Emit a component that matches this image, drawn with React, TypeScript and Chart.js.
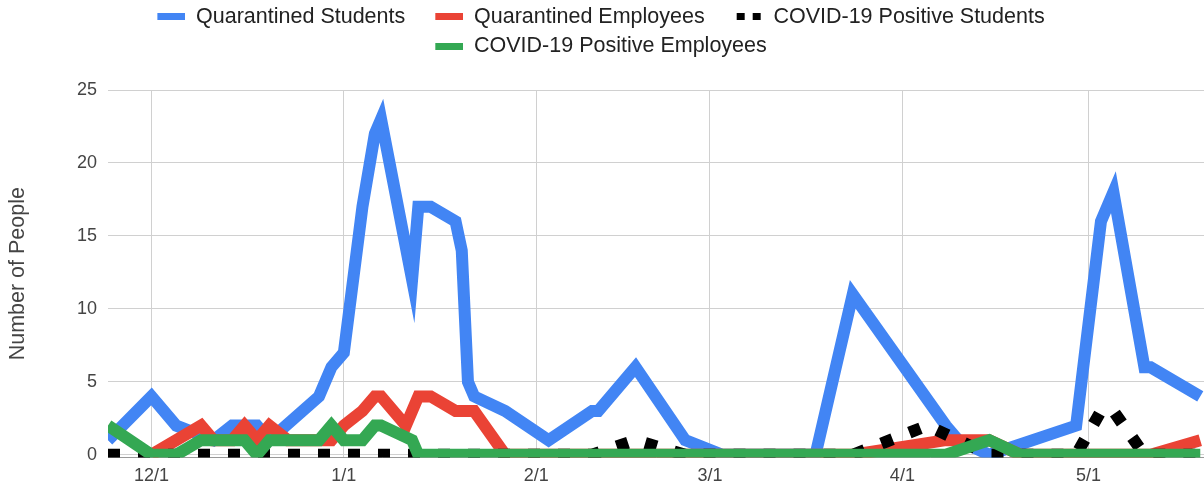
import React, { useEffect, useRef } from "react";
import { Chart, registerables } from "chart.js";

Chart.register(...registerables);

// ---- data ----
const dateLabels = [
  "11/24", "12/1", "12/5", "12/9", "12/11", "12/14", "12/16", "12/18", "12/20", "12/23",
  "12/28", "12/30", "1/1", "1/4", "1/6", "1/7", "1/11", "1/12", "1/13", "1/15",
  "1/19", "1/20", "1/21", "1/22", "1/27", "2/3", "2/10", "2/11", "2/17", "2/25",
  "3/3", "3/18", "3/24", "4/5", "4/8", "4/10", "4/15", "4/20", "4/29", "5/3",
  "5/5", "5/10", "5/11", "5/19",
];

const quarantinedStudents = [
  1, 4, 2, null, 1, 2, null, 2, 1, null,
  4, 6, 7, 17, 22, 23, null, 12, 17, 17,
  16, 14, 5, 4, 3, 1, 3, 3, 6, 1,
  0, 0, 11, null, 2, 1, 0, null, 2, 16,
  18, 6, 6, 4,
];

const quarantinedEmployees = [
  null, 0, null, 2, 1, 1, 2, 1, 2, 1,
  1, 1, 2, 3, 4, 4, 2, null, 4, 4,
  3, null, null, 3, 0, 0, null, null, null, null,
  0, null, 0, null, 1, null, 1, 0, null, null,
  null, null, 0, 1,
];

const positiveStudents = [
  0, 0, null, null, null, null, null, null, null, null,
  null, null, 0, null, null, null, null, null, null, null,
  null, null, null, null, null, 0, 0, null, 1, 0,
  null, null, 0, 2, null, null, 0, null, 0, 3,
  3, 0, null, 0,
];

const positiveEmployees = [
  2, 0, 0, 1, 1, 1, 1, 0, 1, 1,
  1, 2, 1, 1, 2, 2, null, 1, 0, null,
  null, null, null, null, null, 0, null, null, null, null,
  null, null, 0, null, 0, null, 1, 0, null, null,
  null, null, null, 0,
];

const seriesNames = [
  "Quarantined Students",
  "Quarantined Employees",
  "COVID-19 Positive Students",
  "COVID-19 Positive Employees",
];

const monthTickLabels = ["12/1", "1/1", "2/1", "3/1", "4/1", "5/1"];
const yTickValues = [0, 5, 10, 15, 20, 25];

// ---- helpers ----
function dayOffset(md: string): number {
  const [m, d] = md.split("/").map(Number);
  const year = m >= 8 ? 2020 : 2021;
  return (Date.UTC(year, m - 1, d) - Date.UTC(2020, 10, 24)) / 86400000;
}

function toPoints(values: (number | null)[]) {
  return dateLabels.map((d, i) => ({ x: dayOffset(d), y: values[i] }));
}

const FONT = "'Liberation Sans', Arial, sans-serif";
const COLORS = ["#4285F4", "#EA4335", "#000000", "#34A853"];

function makeSwatch(color: string, dotted: boolean): HTMLCanvasElement {
  const c = document.createElement("canvas");
  c.width = 50;
  c.height = 7;
  const g = c.getContext("2d")!;
  g.fillStyle = color;
  if (dotted) {
    g.fillRect(24, 0, 8, 7);
    g.fillRect(40, 0, 8, 7);
  } else {
    g.fillRect(22, 0, 28, 7);
  }
  return c;
}

const legendNudge = {
  id: "legendNudge",
  beforeDraw(chart: any) {
    const lg = chart.legend;
    if (!lg) return;
    lg.top = -2;
    lg.left = -24;
  },
};

export default function App() {
  const ref = useRef<HTMLCanvasElement>(null);

  useEffect(() => {
    if (!ref.current) return;
    const swatches = COLORS.map((c, i) => makeSwatch(c, i === 2));
    const allSeries = [quarantinedStudents, quarantinedEmployees, positiveStudents, positiveEmployees];

    const datasets = allSeries.map((vals, i) => ({
      label: seriesNames[i],
      data: toPoints(vals),
      borderColor: COLORS[i],
      backgroundColor: COLORS[i],
      borderWidth: 12,
      borderDash: i === 2 ? [12, 18] : [],
      pointRadius: 0,
      pointHoverRadius: 0,
      tension: 0,
      fill: false,
      spanGaps: true,
      order: 3 - i,
    }));

    const chart = new Chart(ref.current, {
      type: "line",
      data: { datasets } as any,
      plugins: [legendNudge],
      options: {
        responsive: false,
        animation: false,
        events: [],
        layout: { padding: { top: 21, bottom: 5, left: 0, right: 0 } },
        plugins: {
          tooltip: { enabled: false },
          legend: {
            position: "top",
            align: "center",
            labels: {
              usePointStyle: true,
              pointStyleWidth: 50,
              boxHeight: 7,
              padding: 8,
              color: "#222",
              font: { family: FONT, size: 21.5 },
              generateLabels: (ch: any) =>
                ch.data.datasets.map((ds: any, i: number) => ({
                  text: ds.label,
                  fillStyle: ds.borderColor,
                  strokeStyle: ds.borderColor,
                  lineWidth: 0,
                  pointStyle: swatches[i],
                  hidden: false,
                  datasetIndex: i,
                  fontColor: "#222",
                })),
            },
          },
        },
        scales: {
          x: {
            type: "linear",
            min: dayOffset(dateLabels[0]),
            max: dayOffset(dateLabels[dateLabels.length - 1]) + 0.6,
            afterBuildTicks: (s: any) => {
              s.ticks = monthTickLabels.map((l) => ({ value: dayOffset(l) }));
            },
            ticks: {
              autoSkip: false,
              maxRotation: 0,
              color: "#444",
              font: { family: FONT, size: 18 },
              padding: 8,
              callback: (_v: any, i: number) => monthTickLabels[i],
            },
            grid: { color: "#d0d0d0", lineWidth: 1, drawTicks: false },
            border: { display: true, color: "#999", width: 1 },
          },
          y: {
            type: "linear",
            min: -0.18,
            max: 25,
            afterBuildTicks: (s: any) => {
              s.ticks = yTickValues.map((v) => ({ value: v }));
            },
            afterFit: (s: any) => {
              s.width = 108;
            },
            ticks: {
              color: "#444",
              font: { family: FONT, size: 18 },
              padding: 11,
            },
            grid: { color: "#d0d0d0", lineWidth: 1, drawTicks: false },
            border: { display: false },
            title: {
              display: true,
              text: "Number of People",
              color: "#444",
              font: { family: FONT, size: 21.5 },
              padding: { top: 5, bottom: 0 },
            },
          },
        },
      } as any,
    });
    return () => chart.destroy();
  }, []);

  return (
    <div style={{ position: "fixed", left: 0, top: 0, width: 1204, height: 500, background: "#fff" }}>
      <canvas ref={ref} width={1204} height={500} style={{ display: "block" }} />
    </div>
  );
}
